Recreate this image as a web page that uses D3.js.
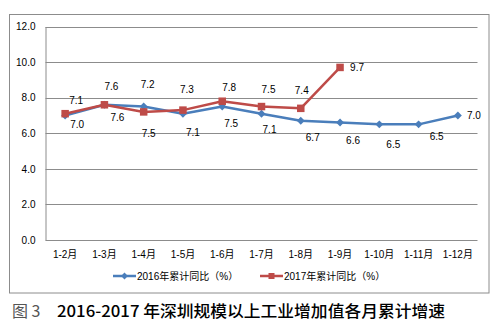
<!DOCTYPE html>
<html>
<head>
<meta charset="utf-8">
<script src="https://cdn.jsdelivr.net/npm/d3@7"></script>
<style>
  html, body { margin: 0; padding: 0; background: #fff; }
  svg { display: block; }
</style>
</head>
<body>
<svg id="chart" width="502" height="326"></svg>
<script>
// Cumulative month ranges
const categories = ["1-2月", "1-3月", "1-4月", "1-5月", "1-6月", "1-7月", "1-8月", "1-9月", "1-10月", "1-11月", "1-12月"];
// Cumulative year-on-year growth (%)
const values2016 = [7.0, 7.6, 7.5, 7.1, 7.5, 7.1, 6.7, 6.6, 6.5, 6.5, 7.0];
const values2017 = [7.1, 7.6, 7.2, 7.3, 7.8, 7.5, 7.4, 9.7];
const seriesNames = ["2016年累计同比（%）", "2017年累计同比（%）"];
const yTicks = [0, 2, 4, 6, 8, 10, 12];

// Hand-placed data label nudges [dx, dy] relative to each point
const labelNudge2016 = [[12, 9], [13, 13], [5, 27], [10, 19], [9, 17], [8, 16], [12, 17], [13, 18], [14, 20], [18, 12], [16, 0]];
const labelNudge2017 = [[11, -13], [7, -18], [4, -27], [4, -21], [7, -14], [7, -17], [1, -18], [17, 0]];

const blue = "#4A7EBB";
const red = "#BE4B48";
const grid = "#8C8C8C";
const font = "'Liberation Sans', 'Noto Sans CJK SC', sans-serif";

const svg = d3.select("#chart");

// Outer chart frame
svg.append("rect")
  .attr("x", 9.5).attr("y", 14.5)
  .attr("width", 479.5).attr("height", 278.5)
  .attr("fill", "#fff").attr("stroke", grid).attr("stroke-width", 1);

const plot = { left: 45.5, right: 477.5, top: 26.5, bottom: 240 };

const x = d3.scaleBand().domain(categories).range([plot.left, plot.right]).padding(0);
const y = d3.scaleLinear().domain([0, 12]).range([plot.bottom, plot.top]);
const cx = c => x(c) + x.bandwidth() / 2;

// Horizontal gridlines
svg.append("g").selectAll("line").data(yTicks.filter(t => t > 0)).join("line")
  .attr("x1", plot.left).attr("x2", plot.right)
  .attr("y1", d => Math.round(y(d)) + 0.5).attr("y2", d => Math.round(y(d)) + 0.5)
  .attr("stroke", grid).attr("stroke-width", 1);

// Y axis
const yAxis = svg.append("g")
  .attr("transform", `translate(${plot.left},0)`)
  .call(d3.axisLeft(y).tickValues(yTicks).tickFormat(d3.format(".1f")).tickSize(0).tickPadding(10));
yAxis.select(".domain").attr("stroke", grid);
yAxis.selectAll("text").attr("font-family", font).attr("font-size", 10).attr("fill", "#000");

// X axis
const xAxis = svg.append("g")
  .attr("transform", `translate(0,${Math.round(plot.bottom) + 0.5})`)
  .call(d3.axisBottom(x).tickSize(0).tickPadding(10));
xAxis.select(".domain").attr("stroke", grid).attr("d", `M${plot.left},0H${plot.right}`);
xAxis.selectAll("text").attr("font-family", font).attr("font-size", 10).attr("fill", "#000");

// Lines
const line = d3.line().x((d, i) => cx(categories[i])).y(d => y(d));

svg.append("path").datum(values2016)
  .attr("d", line).attr("fill", "none")
  .attr("stroke", blue).attr("stroke-width", 2.5).attr("stroke-linejoin", "round");

svg.append("g").selectAll("path").data(values2016).join("path")
  .attr("d", d3.symbol(d3.symbolDiamond2, 40))
  .attr("transform", (d, i) => `translate(${cx(categories[i])},${y(d)})`)
  .attr("fill", blue);

svg.append("path").datum(values2017)
  .attr("d", line).attr("fill", "none")
  .attr("stroke", red).attr("stroke-width", 2.5).attr("stroke-linejoin", "round");

svg.append("g").selectAll("rect").data(values2017).join("rect")
  .attr("x", (d, i) => cx(categories[i]) - 3.75)
  .attr("y", d => y(d) - 3.75)
  .attr("width", 7.5).attr("height", 7.5)
  .attr("fill", red);

// Data labels
function labels(vals, nudges) {
  svg.append("g").selectAll("text").data(vals).join("text")
    .attr("x", (d, i) => cx(categories[i]) + nudges[i][0])
    .attr("y", (d, i) => y(d) + nudges[i][1])
    .attr("text-anchor", "middle")
    .attr("dominant-baseline", "central")
    .attr("font-family", font).attr("font-size", 10).attr("fill", "#000")
    .text(d => d3.format(".1f")(d));
}
labels(values2016, labelNudge2016);
labels(values2017, labelNudge2017);

// Legend
const legend = svg.append("g").attr("transform", "translate(0,276)");
const legendItems = [
  { name: seriesNames[0], color: blue, x: 113, marker: "diamond" },
  { name: seriesNames[1], color: red, x: 260, marker: "square" }
];
legendItems.forEach(it => {
  legend.append("line")
    .attr("x1", it.x).attr("x2", it.x + 23).attr("y1", 0).attr("y2", 0)
    .attr("stroke", it.color).attr("stroke-width", 2.5);
  if (it.marker === "diamond") {
    legend.append("path").attr("d", d3.symbol(d3.symbolDiamond2, 30))
      .attr("transform", `translate(${it.x + 11.5},0)`).attr("fill", it.color);
  } else {
    legend.append("rect").attr("x", it.x + 8.5).attr("y", -3).attr("width", 6).attr("height", 6).attr("fill", it.color);
  }
  legend.append("text")
    .attr("x", it.x + 24).attr("y", 0).attr("dominant-baseline", "central")
    .attr("font-family", font).attr("font-size", 10).attr("fill", "#000")
    .text(it.name);
});

// Figure caption
svg.append("text")
  .attr("x", 12).attr("y", 310).attr("dominant-baseline", "central")
  .attr("font-family", "'Noto Sans CJK SC', sans-serif").attr("font-size", 16).attr("fill", "#555")
  .text("图 3");
svg.append("text")
  .attr("x", 57).attr("y", 310).attr("dominant-baseline", "central")
  .attr("font-family", "'Noto Sans CJK SC', sans-serif").attr("font-size", 16).attr("font-weight", 500).attr("fill", "#000")
  .attr("textLength", 388).attr("lengthAdjust", "spacingAndGlyphs")
  .text("2016-2017 年深圳规模以上工业增加值各月累计增速");
</script>
</body>
</html>
